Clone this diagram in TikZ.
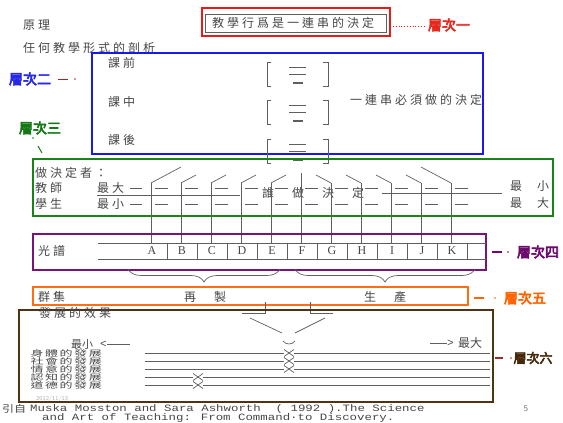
\documentclass[tikz,border=0pt]{standalone}
\usepackage{fontspec}
\setmainfont{Liberation Serif}
\newfontfamily\cjk[LetterSpace=25]{Noto Sans CJK TC}
\newfontfamily\cjkplain{Noto Sans CJK TC}
\newfontfamily\cjkmid[LetterSpace=125]{Noto Sans CJK TC}
\newfontfamily\cjkwide[LetterSpace=150]{Noto Sans CJK TC}
\newfontfamily\cjkrow[LetterSpace=12]{Noto Sans CJK TC}
\newfontfamily\cjkb[FakeBold=4]{Noto Sans CJK TC}
\newfontfamily\mono{Liberation Mono}
\usetikzlibrary{decorations.pathreplacing}
\definecolor{ink}{RGB}{70,70,70}
\definecolor{lineink}{RGB}{95,95,95}
\definecolor{cred}{RGB}{235,25,25}
\definecolor{cblue}{RGB}{25,25,235}
\definecolor{cgreen}{RGB}{25,130,25}
\definecolor{cpurple}{RGB}{120,20,120}
\definecolor{corange}{RGB}{255,110,20}
\definecolor{cbrown}{RGB}{80,50,20}
\definecolor{lred}{RGB}{230,40,30}
\definecolor{lblue}{RGB}{40,40,230}
\definecolor{lgreen}{RGB}{20,120,20}
\definecolor{lpurple}{RGB}{110,10,110}
\definecolor{lorange}{RGB}{255,100,0}
\definecolor{lbrown}{RGB}{70,40,10}
\definecolor{ldash}{RGB}{160,40,40}
\begin{document}
\begin{tikzpicture}[x=1pt,y=-1pt,
  tx/.style={inner sep=0pt, anchor=west, text=ink, font=\cjk\fontsize{12}{12}\selectfont},
  lvl/.style={inner sep=0pt, font=\cjkb\fontsize{14}{14}\selectfont},
  scan/.style={draw=lineink, line width=0.7pt},
  frame/.style={line width=2.2pt},
  letter/.style={inner sep=0pt, text=ink, font=\fontsize{12}{12}\selectfont},
  rowlab/.style={inner sep=0pt, anchor=east, text=ink, font=\cjkrow\fontsize{13}{13}\selectfont},
  citestyle/.style={inner sep=0pt, anchor=west, text=ink, font=\mono\fontsize{12.4}{12}\selectfont}
]
\useasboundingbox (0,0) rectangle (563,423);

% ---------- level 1 ----------
\node[tx] (yuanli) at (23,25) {原理};
\draw[cred, frame] (202,8) rectangle (390,36);
\draw[scan] (205,14) rectangle (386,32);
\node[tx] (principle) at (212,23) {教學行爲是一連串的決定};
\draw[cred, line width=0.8pt, dotted] (393,26) -- (424,26);
\node[lvl, text=lred] (L1) at (449,25) {層次一};

\node[tx] (analysis) at (23,48) {任何教學形式的剖析};

% ---------- level 2 ----------
\draw[cblue, frame] (92,53) rectangle (483,154);
\node[lvl, text=lblue] (L2) at (30,79) {層次二};
\draw[ldash, line width=1pt] (58,79) -- (68,79);
\fill[ldash] (75,79) circle (0.8);
\node[tx] (pre) at (108,63) {課前};
\node[tx] (mid) at (108,102) {課中};
\node[tx] (post) at (108,140) {課後};
\node[tx] (series) at (350,100) {一連串必須做的決定};
\foreach \t in {62,100,139}{
  \draw[scan] (271,\t) -- (267,\t) -- (267,\t+24) -- (271,\t+24);
  \draw[scan] (323,\t) -- (328,\t) -- (328,\t+24) -- (323,\t+24);
  \draw[scan] (289,\t+5) -- (306,\t+5);
  \draw[scan] (289,\t+12) -- (306,\t+12);
  \draw[draw=lineink, line width=1.6pt] (293,\t+21) -- (303,\t+21);
}

% ---------- level 3 ----------
\node[lvl, text=lgreen] (L3) at (40,128) {層次三};
\fill[lgreen] (33,138) circle (0.9);
\draw[lgreen, line width=1pt] (38,146) -- (42,153);
\draw[cgreen, frame] (33,159) rectangle (553,216);
\node[tx] (who) at (35,173) {做決定者：};
\node[tx] (teacher) at (35,188) {教師};
\node[tx] (student) at (35,204) {學生};
\node[tx] (tmax) at (97,188) {最大};
\node[tx] (smin) at (97,204) {最小};
\node[inner sep=0pt, anchor=west, text=ink, font=\cjkwide\fontsize{12}{12}\selectfont] (whodecides) at (262,193) {誰做決定};
\node[inner sep=0pt, anchor=west, text=ink, font=\cjkmid\fontsize{12}{12}\selectfont] (rmin) at (510,186) {最小};
\node[inner sep=0pt, anchor=west, text=ink, font=\cjkmid\fontsize{12}{12}\selectfont] (rmax) at (510,203) {最大};
\draw[scan] (97,195) -- (240,195);
\draw[scan] (382,193) -- (502,193);
\foreach \y in {188,204}{
  \draw[scan] (130,\y) -- (142,\y);
  \foreach \i in {0,...,10}{
    \draw[scan] ({150+30*\i+5},\y) -- ({150+30*\i+18},\y);
  }
}
% verticals and slants
\foreach \i in {0,...,10}{
  \pgfmathsetmacro{\xx}{151+30*\i}
  \ifnum\i=5
    \draw[scan] (\xx,173) -- (\xx,243);
  \else
    \draw[scan] (\xx,183) -- (\xx,243);
  \fi
}
\draw[scan] (151,183) -- (181,167);
\foreach \i in {1,2,3,4}{
  \draw[scan] ({151+30*\i},183) -- ({166+30*\i},175);
}
\foreach \i in {6,7,8,9}{
  \draw[scan] ({151+30*\i},183) -- ({136+30*\i},175);
}
\draw[scan] (451,183) -- (421,167);

% ---------- level 4 ----------
\draw[cpurple, frame] (33,234) rectangle (486,270);
\node[tx] (spectrum) at (38,251) {光譜};
\draw[scan] (98,243) -- (486,243);
\draw[scan] (98,259) -- (486,259);
\foreach \j in {0,...,10}{
  \draw[scan] ({167+30*\j},243) -- ({167+30*\j},259);
}
\foreach \l [count=\k from 0] in {A,B,C,D,E,F,G,H,I,J,K}{
  \node[letter] (s\l) at ({152+30*\k},251) {\l};
}
\draw[lpurple, line width=1.2pt] (492,252) -- (502,252);
\fill[lpurple] (508,252) circle (0.9);
\node[lvl, text=lpurple] (L4) at (538,252) {層次四};
\draw[scan, decorate, decoration={brace, amplitude=13pt}] (280,269) -- (128,269);
\draw[scan, decorate, decoration={brace, amplitude=13pt}] (475,269) -- (295,269);

% ---------- level 5 ----------
\draw[corange, frame] (33,287) rectangle (468,305);
\node[tx] (cluster) at (38,297) {群集};
\node[inner sep=0pt, anchor=west, text=ink, font=\cjkwide\fontsize{12}{12}\selectfont] (repro) at (184,297) {再製};
\node[inner sep=0pt, anchor=west, text=ink, font=\cjkwide\fontsize{12}{12}\selectfont] (produ) at (364,297) {生產};
\draw[lorange, line width=1.2pt] (474,298) -- (484,298);
\fill[lorange] (495,298) circle (0.9);
\node[lvl, text=lorange] (L5) at (525,298) {層次五};

% ---------- level 6 ----------
\node[inner sep=0pt, anchor=west, text=ink!45, font=\sffamily\fontsize{6}{6}\selectfont] (date) at (36,399) {2012/11/13};
\draw[scan] (265,302) -- (265,313) -- (242,313);
\draw[scan] (310,302) -- (310,313) -- (333,313);
\draw[scan] (250,318) -- (282,333);
\draw[scan] (325,318) -- (295,333);
\draw[scan] (283,341) .. controls (286,345) and (292,345) .. (295,341);
\draw[cbrown, frame] (19,310) rectangle (493,402);
\node[tx] (effects) at (39,313) {發展的效果};
\node[inner sep=0pt, anchor=west, text=ink, font=\cjkplain\fontsize{11}{11}\selectfont] (emin) at (71,344) {最小};
\node[inner sep=0pt, anchor=west, text=ink, font=\mono\fontsize{11}{11}\selectfont] (ltsign) at (100,344) {<};
\coordinate (ltend) at (130,344);
\draw[scan] (ltsign.east) -- (ltend);
\node[inner sep=0pt, anchor=west, text=ink, font=\mono\fontsize{11}{11}\selectfont] (gtsign) at (447,343) {>};
\coordinate (gtstart) at (430,343);
\draw[scan] (gtstart) -- (gtsign.west);
\node[inner sep=0pt, anchor=west, text=ink, font=\cjkplain\fontsize{12}{12}\selectfont] (emax) at (458,343) {最大};

\foreach \y/\lab/\cx [count=\r] in {353/身體的發展/289, 361/社會的發展/289, 369/情意的發展/289, 377/認知的發展/198, 385/道德的發展/198}{
  \node[rowlab] (row\r) at (102,\y) {\scalebox{1}[0.62]{\lab}};
  \draw[scan] (145,\y) -- ({\cx-5},\y);
  \draw[scan] ({\cx+5},\y) -- (490,\y);
  \draw[scan] ({\cx-5},\y-3.5) -- ({\cx+5},\y+3.5);
  \draw[scan] ({\cx-5},\y+3.5) -- ({\cx+5},\y-3.5);
}
\draw[ldash, line width=1.2pt] (495,358) -- (503,358);
\fill[ldash] (511,358) circle (0.9);
\node[lvl, text=lbrown, font=\cjkb\fontsize{13}{13}\selectfont] (L6) at (533,358) {層次六};

% ---------- citation ----------
\node[inner sep=0pt, anchor=west, text=ink, font=\cjkplain\fontsize{12}{12}\selectfont] (cite) at (2,409) {\scalebox{1}[0.8]{引自}};
\node[citestyle] (cite1) at (30,409) {\scalebox{1}[0.78]{Muska Mosston and Sara Ashworth\ \ ( 1992 ).The Science}};
\node[citestyle] (cite2) at (42,418) {\scalebox{1}[0.78]{and Art of Teaching: From Command·to Discovery.}};
\node[inner sep=0pt, text=ink!70, font=\sffamily\fontsize{9}{9}\selectfont] (pagenum) at (526,409) {5};
\end{tikzpicture}
\end{document}
